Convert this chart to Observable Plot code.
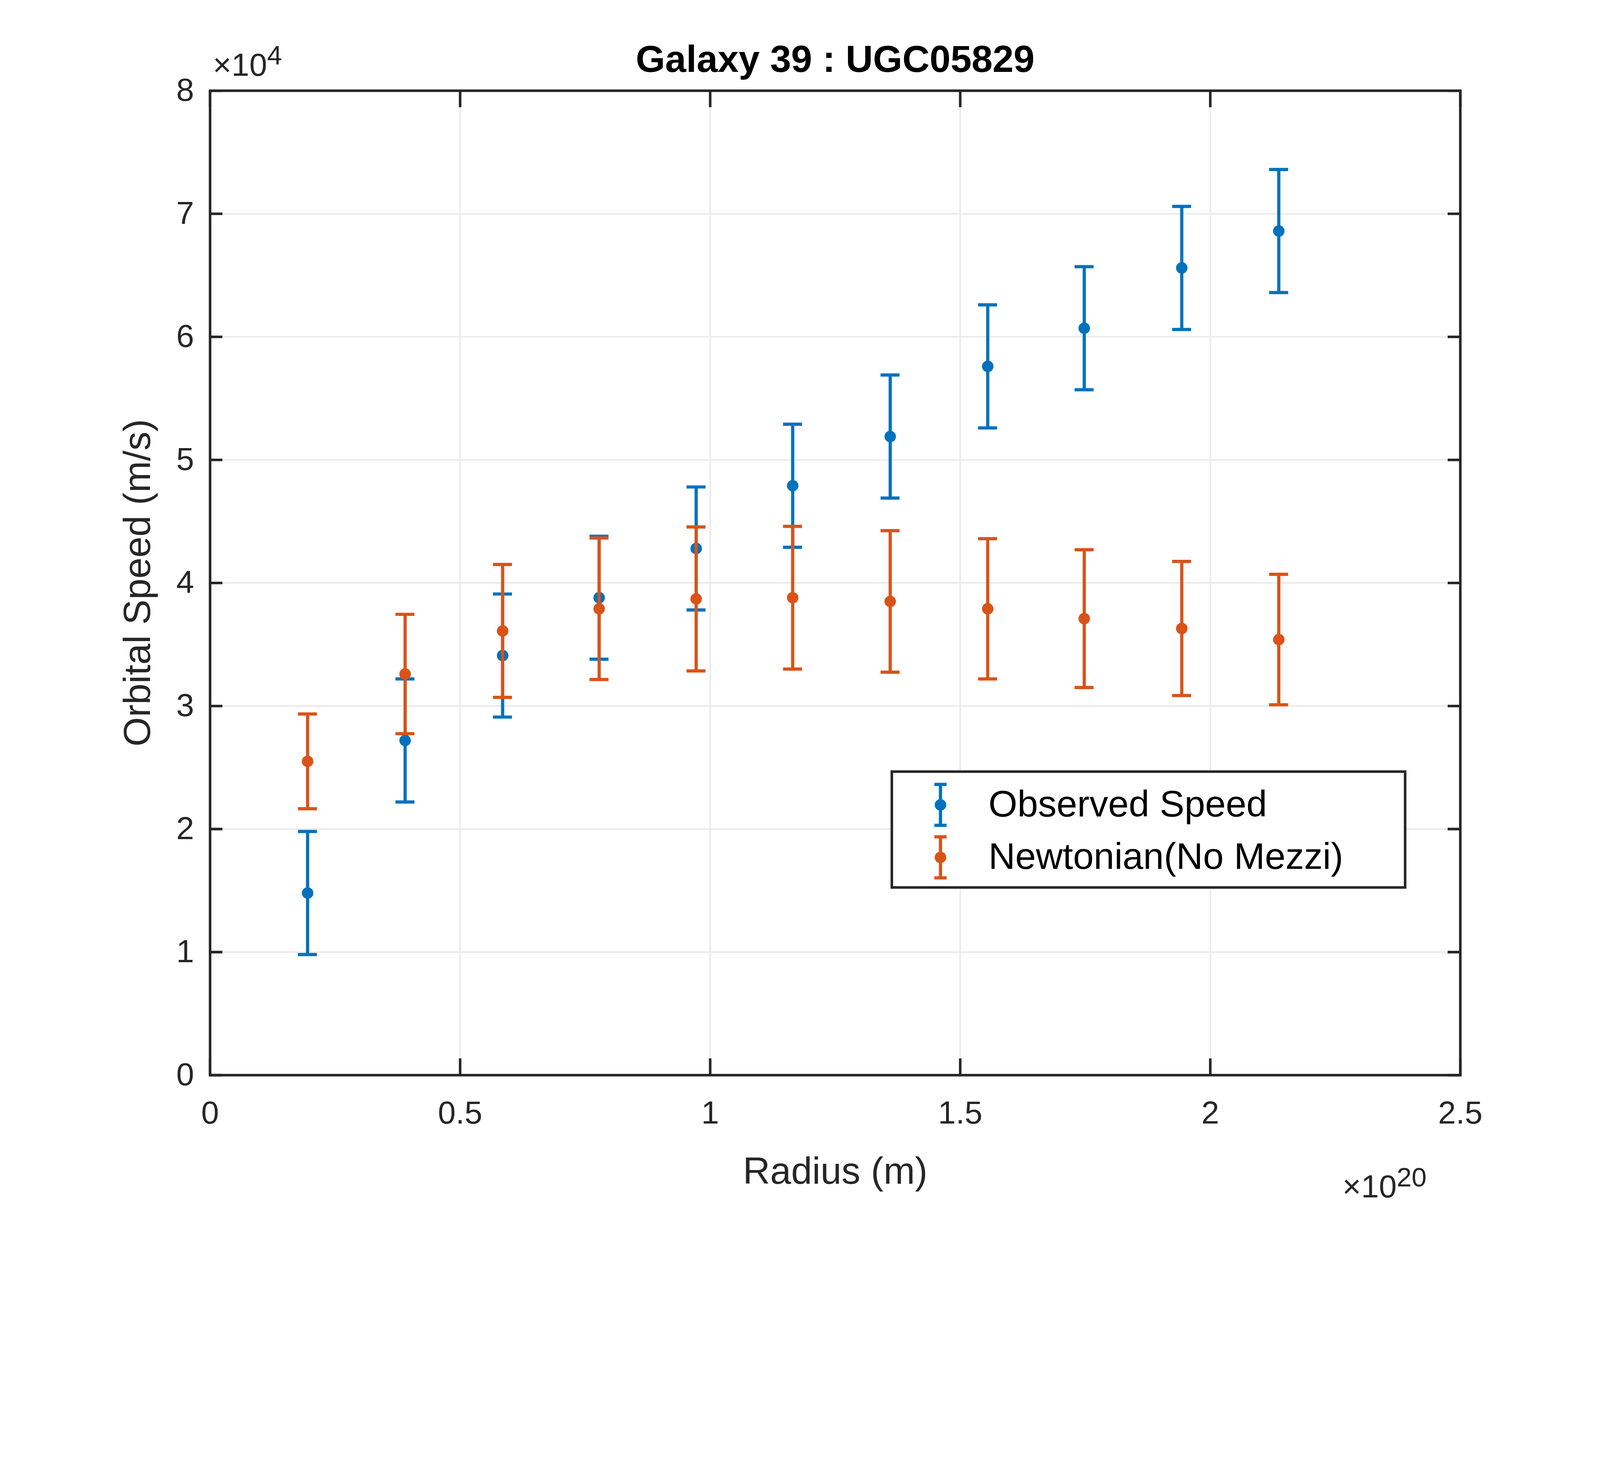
<!DOCTYPE html>
<html><head><meta charset="utf-8">
<script src="https://cdn.jsdelivr.net/npm/d3@7"></script>
<script src="https://cdn.jsdelivr.net/npm/@observablehq/plot@0.6"></script>
<style>
html,body{margin:0;padding:0;overflow:hidden;background:#fff;font-family:"Liberation Sans",Arial,sans-serif;color:#262626}
#wrap{position:relative;width:5000px;height:3750px;transform-origin:0 0}
.ov{position:absolute;white-space:nowrap}
</style></head><body>
<div id="wrap"><div id="chart"></div></div>
<script>
// radius (m) and speeds (m/s)
const radius = [0.195e20, 0.39e20, 0.585e20, 0.778e20, 0.972e20, 1.165e20, 1.36e20, 1.555e20, 1.748e20, 1.943e20, 2.137e20];
const observed = [14800, 27200, 34100, 38800, 42800, 47900, 51900, 57600, 60700, 65600, 68600];
const observedErr = [5000, 5000, 5000, 5000, 5000, 5000, 5000, 5000, 5000, 5000, 5000];
const newtonian = [25500, 32600, 36100, 37900, 38700, 38800, 38500, 37900, 37100, 36300, 35400];
const newtonianErr = [3850, 4850, 5400, 5750, 5850, 5800, 5750, 5700, 5600, 5450, 5300];
const xTicks = [0, 0.5e20, 1e20, 1.5e20, 2e20, 2.5e20];
const yTicks = [0, 10000, 20000, 30000, 40000, 50000, 60000, 70000, 80000];

const blue = "#0072BD", orange = "#D95319", ink = "#262626";
const rows = (ys, es, s) => radius.map((x, i) => ({x, y: ys[i], lo: ys[i] - es[i], hi: ys[i] + es[i], s}));
const obs = rows(observed, observedErr, "obs");
const nwt = rows(newtonian, newtonianErr, "nwt");
const cap = 0.019e20, tx = 0.025e20, ty = 1000;

function series(d, c) {
  return [
    Plot.ruleX(d, {x: "x", y1: "lo", y2: "hi", stroke: c, strokeWidth: 10}),
    Plot.ruleY(d, {y: "lo", x1: d => d.x - cap, x2: d => d.x + cap, stroke: c, strokeWidth: 10}),
    Plot.ruleY(d, {y: "hi", x1: d => d.x - cap, x2: d => d.x + cap, stroke: c, strokeWidth: 10}),
    Plot.dot(d, {x: "x", y: "y", r: 18, fill: c})
  ];
}

const chart = Plot.plot({
  width: 5000, height: 3750,
  marginLeft: 656, marginRight: 437, marginTop: 283, marginBottom: 391,
  style: {fontFamily: "Liberation Sans, Arial, sans-serif", fontSize: "100px", color: ink, background: "#fff", maxWidth: "none"},
  x: {domain: [0, 2.5e20]},
  y: {domain: [0, 80000]},
  marks: [
    Plot.ruleX(xTicks, {stroke: "#ebebeb", strokeWidth: 5}),
    Plot.ruleY(yTicks, {stroke: "#ebebeb", strokeWidth: 5}),
    Plot.ruleX(xTicks, {x: d => d, y1: 0, y2: ty * 1.35, stroke: ink, strokeWidth: 8}),
    Plot.ruleX(xTicks, {x: d => d, y1: 80000 - ty * 1.35, y2: 80000, stroke: ink, strokeWidth: 8}),
    Plot.ruleY(yTicks, {y: d => d, x1: 0, x2: tx, stroke: ink, strokeWidth: 8}),
    Plot.ruleY(yTicks, {y: d => d, x1: 2.5e20 - tx, x2: 2.5e20, stroke: ink, strokeWidth: 8}),
    ...series(obs, blue),
    ...series(nwt, orange),
    Plot.frame({stroke: ink, strokeWidth: 8}),
    Plot.axisX({ticks: xTicks, tickSize: 0, tickPadding: 80, tickFormat: d => String(d / 1e20), label: null, fontSize: 100}),
    Plot.axisY({ticks: yTicks, tickSize: 0, tickPadding: 50, tickFormat: d => String(d / 1e4), label: null, fontSize: 100})
  ]
});
document.getElementById("chart").append(chart);

const wrap = document.getElementById("wrap");
function ov(html, css) { const d = document.createElement("div"); d.className = "ov"; d.innerHTML = html; d.style.cssText += css; wrap.append(d); }
ov("Galaxy 39 : UGC05829", "left:2610px;top:115px;transform:translateX(-50%);font-weight:bold;font-size:118px;color:#000");
ov("Radius (m)", "left:2610px;top:3590px;transform:translateX(-50%);font-size:118px");
ov("Orbital Speed (m/s)", "left:428px;top:1821px;transform:translate(-50%,-50%) rotate(-90deg);font-size:118px");
ov("×10<sup style='font-size:84px'>4</sup>", "left:665px;top:125px;font-size:100px");
ov("×10<sup style='font-size:84px'>20</sup>", "left:4195px;top:3630px;font-size:100px");

// legend
const leg = document.createElement("div");
leg.className = "ov";
leg.style.cssText += "left:2783px;top:2407px;width:1596px;height:354px;border:8px solid " + ink + ";background:#fff";
const item = (c, y, t) => `<g transform="translate(148,${y})"><line y1="-64" y2="64" stroke="${c}" stroke-width="10"/><line x1="-19" x2="19" y1="-64" y2="-64" stroke="${c}" stroke-width="10"/><line x1="-19" x2="19" y1="64" y2="64" stroke="${c}" stroke-width="10"/><circle r="18" fill="${c}"/><text x="150" y="36" font-size="116" fill="#000">${t}</text></g>`;
leg.innerHTML = `<svg width="1596" height="354" style="font-family:Liberation Sans,Arial,sans-serif">${item(blue, 100, "Observed Speed")}${item(orange, 264, "Newtonian(No Mezzi)")}</svg>`;
wrap.append(leg);

// fit the 5000x3750 drawing into whatever viewport is actually available
const k = Math.min(1, window.innerWidth / 5000, window.innerHeight / 3750);
wrap.style.transform = `scale(${k})`;
</script>
</body></html>
